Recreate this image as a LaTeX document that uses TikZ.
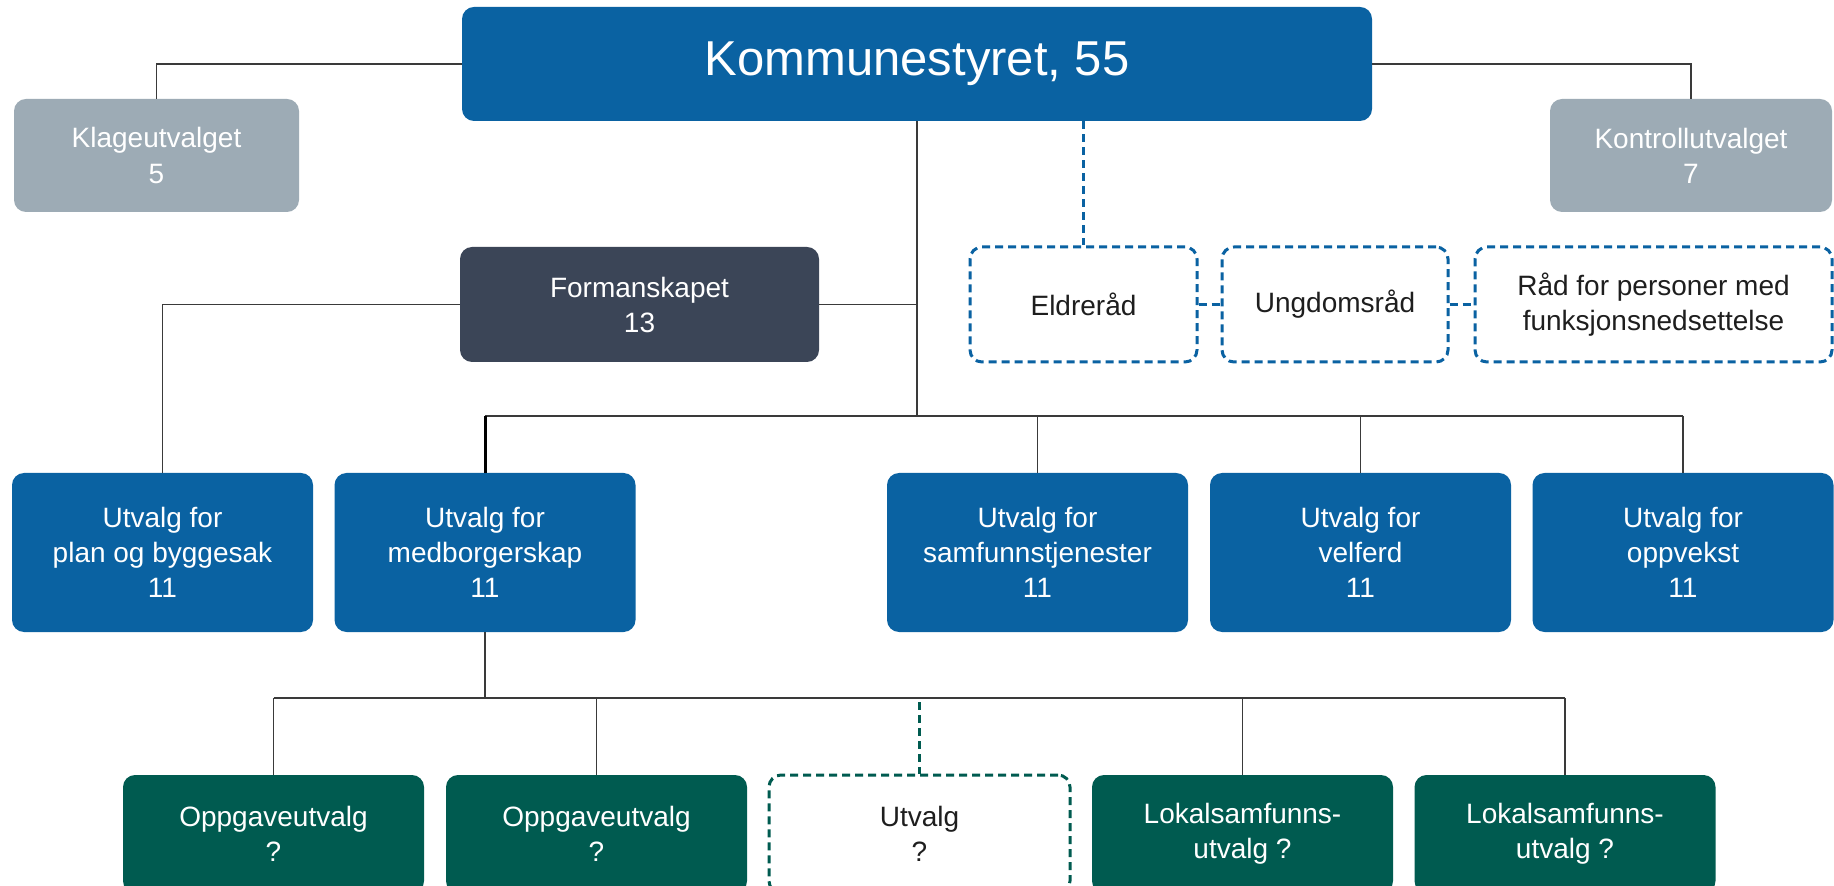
\documentclass[tikz,border=0pt]{standalone}
\usepackage{fontspec}
\setmainfont{Liberation Sans}
\definecolor{kblue}{HTML}{0A62A2}
\definecolor{kgrey}{HTML}{9DABB5}
\definecolor{knavy}{HTML}{3B4557}
\definecolor{kgreen}{HTML}{005B50}
\definecolor{kline}{HTML}{3A3A3A}
\definecolor{ktext}{HTML}{1E1E1E}
\begin{document}
\begin{tikzpicture}[x=0.5pt,y=-0.5pt,
  base/.style={rounded corners=6pt, align=center, inner sep=0pt,
    font=\fontsize{14}{17.5}\selectfont, text=white},
  bluebox/.style={base, fill=kblue},
  greybox/.style={base, fill=kgrey},
  navybox/.style={base, fill=knavy},
  greenbox/.style={base, fill=kgreen},
  councilbox/.style={base, fill=white, draw=kblue, text=ktext, line width=1.5pt,
    dash pattern=on 4pt off 2.5pt},
  openbox/.style={base, fill=white, draw=kgreen, text=ktext, line width=1.5pt,
    dash pattern=on 4pt off 2.5pt},
  link/.style={draw=kline, line width=0.65pt},
  thicklink/.style={draw=black, line width=1.5pt},
  bluedash/.style={draw=kblue, line width=1.5pt, dash pattern=on 4pt off 2.5pt},
  greendash/.style={draw=kgreen, line width=1.5pt, dash pattern=on 4pt off 2.5pt},
  row2/.style={minimum width=150.5pt, minimum height=79.5pt},
  row3/.style={minimum width=150.5pt, minimum height=59pt}]
\useasboundingbox (0,0) rectangle (1834,886);
\fill[white] (0,0) rectangle (1834,886);

% top
\node[bluebox, minimum width=455pt, minimum height=57pt,
  font=\fontsize{24.5}{29}\selectfont] (kom) at (917,64) {Kommunestyret, 55};
\node[greybox, minimum width=142.5pt, minimum height=56.5pt] (klage) at (156.5,155.5) {Klageutvalget\\5};
\node[greybox, minimum width=141pt, minimum height=56.5pt] (kontroll) at (1691,155.5) {Kontrollutvalget\\7};

% second level
\node[navybox, minimum width=179.5pt, minimum height=57.5pt] (forman) at (639.5,304.5) {Formanskapet\\13};
\node[councilbox, minimum width=113.5pt, minimum height=57.5pt] (eldre) at (1083.5,304.5) {Eldreråd};
\node[councilbox, minimum width=113pt, minimum height=57.5pt] (ungdom) at (1335,304.5) {Ungdomsråd};
\node[councilbox, minimum width=178.5pt, minimum height=57.5pt] (raad) at (1653.5,304.5) {Råd for personer med\\funksjonsnedsettelse};

% committees
\node[bluebox, row2] (plan) at (162.5,552.5) {Utvalg for\\plan og byggesak\\11};
\node[bluebox, row2] (medb) at (485,552.5) {Utvalg for\\medborgerskap\\11};
\node[bluebox, row2] (samf) at (1037.5,552.5) {Utvalg for\\samfunnstjenester\\11};
\node[bluebox, row2] (velf) at (1360.5,552.5) {Utvalg for\\velferd\\11};
\node[bluebox, row2] (oppv) at (1683,552.5) {Utvalg for\\oppvekst\\11};

% bottom
\node[greenbox, row3] (opp1) at (273.5,834) {Oppgaveutvalg\\?};
\node[greenbox, row3] (opp2) at (596.5,834) {Oppgaveutvalg\\?};
\node[openbox, row3] (utv) at (919.5,834) {Utvalg\\?};
\node[greenbox, row3] (lok1) at (1242.5,834) {Lokalsamfunns-\\utvalg ?};
\node[greenbox, row3] (lok2) at (1565,834) {Lokalsamfunns-\\utvalg ?};

\coordinate (busC) at (917,416);
\coordinate (busB) at (485,698);

% connectors top
\draw[link] (kom.west) -| (klage.north);
\draw[link] (kom.east) -| (kontroll.north);
\draw[link] (kom.south) -- (busC);
\draw[link] (forman.east) -- (busC |- forman.east);
\draw[link] (forman.west) -| (plan.north);
\draw[link] (medb.north |- busC) -- (oppv.north |- busC);
\draw[thicklink] (medb.north |- busC) -- (medb.north);
\draw[link] (samf.north |- busC) -- (samf.north);
\draw[link] (velf.north |- busC) -- (velf.north);
\draw[link] (oppv.north |- busC) -- (oppv.north);

% councils
\draw[bluedash] (kom.south -| eldre.north) -- (eldre.north);
\draw[bluedash] (eldre.east) -- (ungdom.west);
\draw[bluedash] (ungdom.east) -- (raad.west);

% bottom connectors
\draw[link] (medb.south) -- (busB);
\draw[link] (opp1.north |- busB) -- (lok2.north |- busB);
\draw[link] (opp1.north |- busB) -- (opp1.north);
\draw[link] (opp2.north |- busB) -- (opp2.north);
\draw[link] (lok1.north |- busB) -- (lok1.north);
\draw[link] (lok2.north |- busB) -- (lok2.north);
\draw[greendash] ([yshift=-2pt]utv.north |- busB) -- (utv.north);
\end{tikzpicture}
\end{document}
